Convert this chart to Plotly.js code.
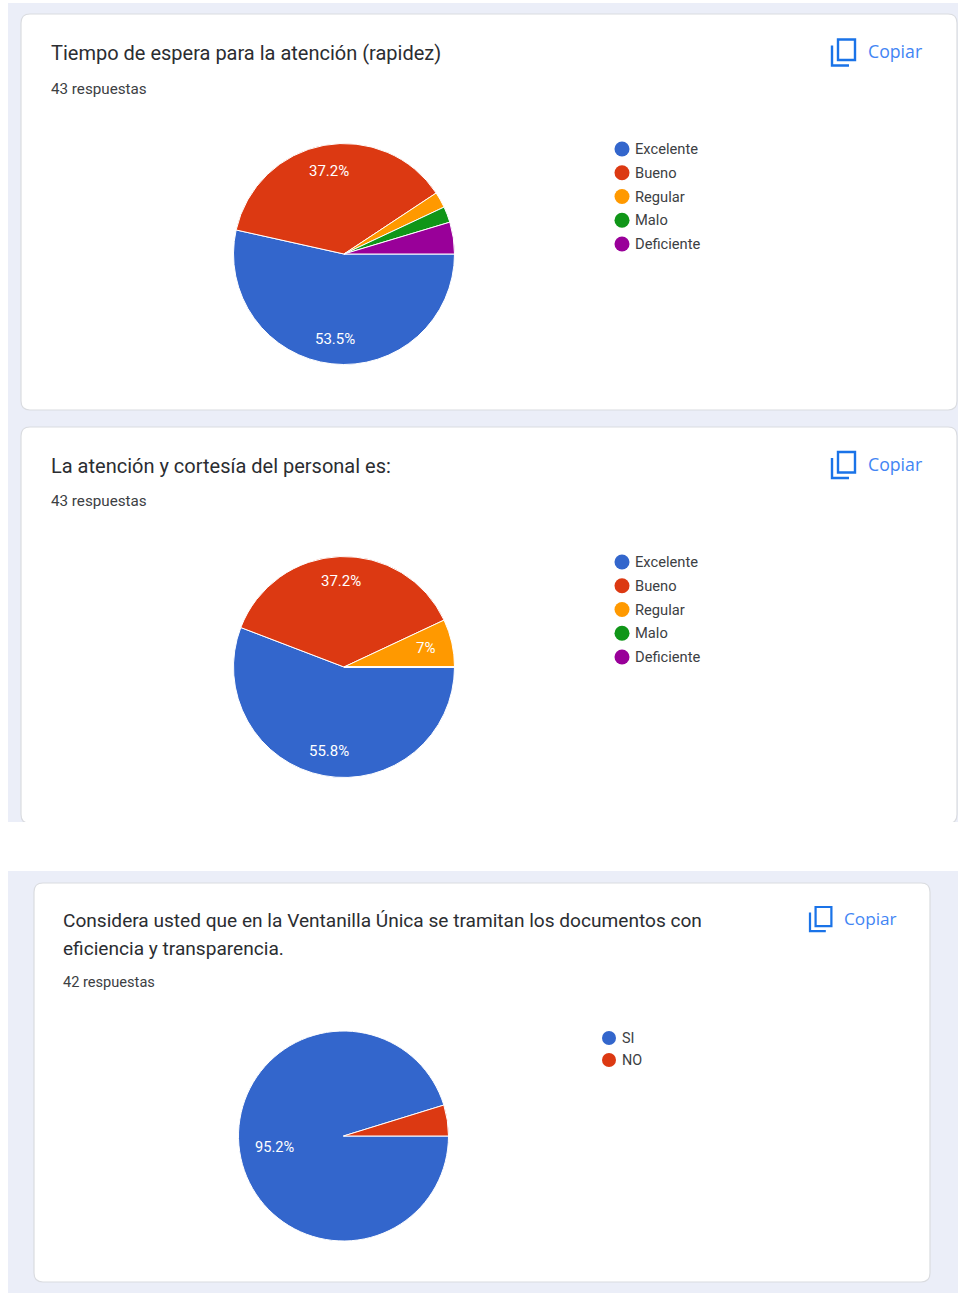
<!DOCTYPE html>
<html><head><meta charset="utf-8">
<script src="https://cdn.plot.ly/plotly-3.0.1.min.js"></script>
<style>html,body{margin:0;padding:0;background:#fff;overflow:hidden}#chart{width:958px;height:1293px}</style>
</head><body><div id="chart"></div>
<script>
const colors5 = ['#3366cc','#dc3912','#ff9900','#109618','#990099'];
const colors2 = ['#3366cc','#dc3912'];
const labels5 = ['Excelente','Bueno','Regular','Malo','Deficiente'];
const labels2 = ['SI','NO'];
const values1 = [23,16,1,1,2];
const values2 = [24,16,3,0,0];
const values3 = [40,2];
const title1 = ['Tiempo de espera para la atención (rapidez)'];
const title2 = ['La atención y cortesía del personal es:'];
const title3 = ['Considera usted que en la Ventanilla Única se tramitan los documentos con','eficiencia y transparencia.'];
const answers1 = '43 respuestas', answers2 = '43 respuestas', answers3 = '42 respuestas';

const W=958,H=1293;
const px=x=>x/W, py=y=>1-y/H;
const pt=(x,y)=>px(x).toFixed(5)+','+py(y).toFixed(5);
const shapes=[],annotations=[];
function rect(x0,y0,x1,y1,c){shapes.push({type:'rect',xref:'paper',yref:'paper',x0:px(x0),x1:px(x1),y0:py(y0),y1:py(y1),fillcolor:c,line:{width:0},layer:'below'});}
function card(x0,y0,x1,y1,r){
  const rx=r;
  let d='M'+pt(x0+rx,y0)+' L'+pt(x1-rx,y0)+' Q'+pt(x1,y0)+' '+pt(x1,y0+rx)+' L'+pt(x1,y1-rx)+' Q'+pt(x1,y1)+' '+pt(x1-rx,y1)+' L'+pt(x0+rx,y1)+' Q'+pt(x0,y1)+' '+pt(x0,y1-rx)+' L'+pt(x0,y0+rx)+' Q'+pt(x0,y0)+' '+pt(x0+rx,y0)+' Z';
  shapes.push({type:'path',xref:'paper',yref:'paper',path:d,fillcolor:'#ffffff',line:{color:'#dadce0',width:1.2},layer:'below'});
}
function txt(x,y,t,size,color,font,anchor,weight){annotations.push({xref:'paper',yref:'paper',x:px(x),y:py(y),text:t,showarrow:false,xanchor:anchor||'left',yanchor:'middle',font:{family:font||'Roboto',size:size,color:color,weight:weight||400},borderpad:0,borderwidth:0,captureevents:false});}
function icon(x,y,s){
  const line={color:'#1a73e8',width:2.4*s};
  const mk=d=>shapes.push({type:'path',xref:'paper',yref:'paper',path:d,line:line,layer:'above'});
  mk('M'+pt(x+6*s,y)+' L'+pt(x+23*s,y)+' L'+pt(x+23*s,y+20.5*s)+' L'+pt(x+6*s,y+20.5*s)+' Z');
  mk('M'+pt(x,y+6*s)+' L'+pt(x,y+26*s)+' L'+pt(x+17*s,y+26*s));
}
function legend(x,ys,step,labels,colors,size,rad,tx){
  labels.forEach((l,i)=>{
    shapes.push({type:'circle',xref:'paper',yref:'paper',x0:px(x-rad),x1:px(x+rad),y0:py(ys+i*step-rad),y1:py(ys+i*step+rad),fillcolor:colors[i],line:{width:0},layer:'above'});
    txt(tx,ys+i*step,l,size,'#3c4043');
  });
}
function pct(vals,i){const s=vals.reduce((a,b)=>a+b,0);return String(Math.round(vals[i]/s*1000)/10)+'%';}
function pie(vals,labels,colors,cx,cy,r){
  return {type:'pie',values:vals,labels:labels,sort:false,direction:'clockwise',rotation:90,
    marker:{colors:colors,line:{color:'#ffffff',width:1}},textinfo:'none',hoverinfo:'skip',showlegend:false,
    domain:{x:[px(cx-r),px(cx+r)],y:[py(cy+r),py(cy-r)]}};
}

rect(8,3,958,822,'#ebeef8');
rect(8,871,958,1293,'#ebeef8');
card(21,14,957,410,9);
card(21,427,957,823.5,9);
rect(0,822,958,871,'#ffffff');
card(34,883,930,1282,9);

const ink='#2b2d31', sub='#3c4043', blue='#4285f4', gs='Open Sans';
// Card 1
txt(51,53.5,title1[0],20,ink);
txt(51,89,answers1,15.2,sub);
icon(832,39.5,1);txt(868,51.5,'Copiar',17.7,blue,gs,null,500);
legend(622,149,23.75,labels5,colors5,14.7,7.5,635);
txt(329,171.5,pct(values1,1),15,'#ffffff',null,'center');
txt(335,339,pct(values1,0),15,'#ffffff',null,'center');
// Card 2
txt(51,466,title2[0],20,ink);
txt(51,501.5,answers2,15.2,sub);
icon(832,452,1);txt(868,464,'Copiar',17.7,blue,gs,null,500);
legend(622,562,23.75,labels5,colors5,14.7,7.5,635);
txt(341,580.5,pct(values2,1),15,'#ffffff',null,'center');
txt(425.5,648,pct(values2,2),15,'#ffffff',null,'center');
txt(329,750.5,pct(values2,0),15,'#ffffff',null,'center');
// Card 3
txt(63,920.5,title3[0],19.1,ink);
txt(63,948.5,title3[1],19.1,ink);
txt(63,982,answers3,14.6,sub);
icon(810,907,0.93);txt(844,919,'Copiar',17.2,blue,gs,null,500);
legend(609,1038,22,labels2,colors2,14.4,7,622);
txt(274,1146.5,pct(values3,0),14.6,'#ffffff',null,'center');

const data=[pie(values1,labels5,colors5,344,254,110.5),pie(values2,labels5,colors5,344,667,110.5),pie(values3,labels2,colors2,343.5,1136,105)];
Plotly.newPlot('chart',data,{width:W,height:H,margin:{l:0,r:0,t:0,b:0,pad:0},paper_bgcolor:'#ffffff',plot_bgcolor:'#ffffff',showlegend:false,shapes:shapes,annotations:annotations},{displayModeBar:false,staticPlot:true});
</script></body></html>
